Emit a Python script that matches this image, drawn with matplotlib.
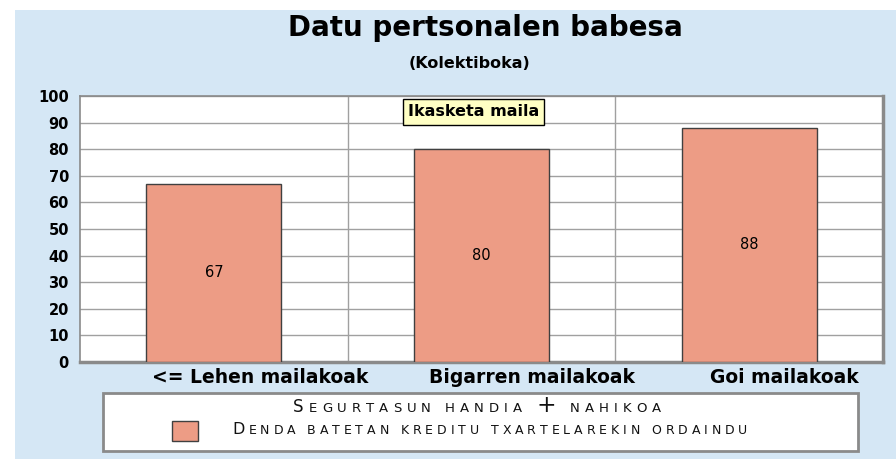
import matplotlib
matplotlib.use("Agg")
import matplotlib.pyplot as plt
from matplotlib.patches import Rectangle
from matplotlib.offsetbox import TextArea, HPacker, AnnotationBbox

plt.rcParams['font.family'] = ['DejaVu Sans']

# Data
categories = ['<= Lehen mailakoak', 'Bigarren mailakoak', 'Goi mailakoak']
values = [67, 80, 88]
title = 'Datu pertsonalen babesa'
subtitle = '(Kolektiboka)'
group_label = 'Ikasketa maila'
legend_title = 'Segurtasun handia + nahikoa'
series_name = 'Denda batetan kreditu txartelarekin ordaindu'

bar_color = '#ED9C85'
bg_color = '#D5E7F5'
grid_color = '#A0A0A0'

W, H = 896, 459
fig = plt.figure(figsize=(W / 100, H / 100), dpi=100)
fig.patch.set_facecolor('white')
# blue panel behind everything
fig.patches.append(Rectangle((15 / W, 0), 1 - 15 / W, 1 - 10 / H, transform=fig.transFigure,
                             facecolor=bg_color, edgecolor='none', zorder=-10))

ax = fig.add_axes([80 / W, 1 - 362 / H, (883 - 80) / W, (362 - 96) / H])
ax.set_facecolor('white')
x = list(range(len(categories)))
ax.bar(x, values, width=0.505, color=bar_color, edgecolor='#404040', linewidth=1, zorder=3)
for xi, v in zip(x, values):
    ax.text(xi, v / 2, str(v), ha='center', va='center', fontsize=10.5, zorder=4)

ax.set_xlim(-0.5, len(categories) - 0.5)
ax.set_ylim(0, 100)
ax.set_yticks(range(0, 101, 10))
ax.set_yticklabels([str(t) for t in range(0, 101, 10)], fontsize=10.5, fontweight='bold')
# category labels sit a little right of the bar centres
label_shift = [0.175, 0.19, 0.13]
ax.set_xticks([xi + s for xi, s in zip(x, label_shift)])
ax.set_xticklabels(categories, fontsize=13.5, fontweight='bold')
ax.tick_params(axis='both', length=0)
ax.tick_params(axis='y', pad=8)
ax.tick_params(axis='x', pad=4)
ax.yaxis.grid(True, color=grid_color, linewidth=1, zorder=0)
for b in [0.5, 1.5]:
    ax.axvline(b, color=grid_color, linewidth=1, zorder=0)
ax.set_axisbelow(True)
for s in ax.spines.values():
    s.set_color('#8A8A8A')
    s.set_linewidth(1.2)
ax.spines['right'].set_linewidth(2.5)
ax.spines['bottom'].set_linewidth(2.5)

ax.text(0.97, 94, group_label, ha='center', va='center', fontsize=11.5, fontweight='bold',
        bbox=dict(boxstyle='square,pad=0.32', facecolor='#FFFFC4', edgecolor='black', linewidth=1),
        zorder=5)

fig.text(485 / W, 1 - 28 / H, title, ha='center', va='center', fontsize=20, fontweight='bold')
fig.text(469 / W, 1 - 64 / H, subtitle, ha='center', va='center', fontsize=11.5, fontweight='bold')


def small_caps(text, big=11.5, small=9, spacing=2.8):
    # one box per letter so the caps can be spread out
    kids = []
    for ch in text:
        if ch == '+':
            size = big * 1.4
        elif ch.islower() or ch == ' ':
            size = small
        else:
            size = big
        kids.append(TextArea(ch.upper(), textprops=dict(fontsize=size, color='#111111')))
    return HPacker(children=kids, align='baseline', pad=0, sep=spacing)


# legend box
fig.patches.append(Rectangle((103 / W, 1 - 451 / H), (858 - 103) / W, (451 - 393) / H,
                             transform=fig.transFigure, facecolor='white',
                             edgecolor='#8A8A8A', linewidth=2, zorder=1))
ab1 = AnnotationBbox(small_caps(legend_title, big=12, small=9.5, spacing=3.6),
                     (477 / W, 1 - 406 / H), xycoords='figure fraction',
                     frameon=False, box_alignment=(0.5, 0.5), pad=0)
fig.add_artist(ab1)
fig.patches.append(Rectangle((172 / W, 1 - 441 / H), 26 / W, 20 / H, transform=fig.transFigure,
                             facecolor=bar_color, edgecolor='#404040', linewidth=1, zorder=2))
ab2 = AnnotationBbox(small_caps(series_name), (232 / W, 1 - 430 / H), xycoords='figure fraction',
                     frameon=False, box_alignment=(0, 0.5), pad=0)
fig.add_artist(ab2)

fig.savefig('out.png', dpi=100, facecolor=fig.get_facecolor())
